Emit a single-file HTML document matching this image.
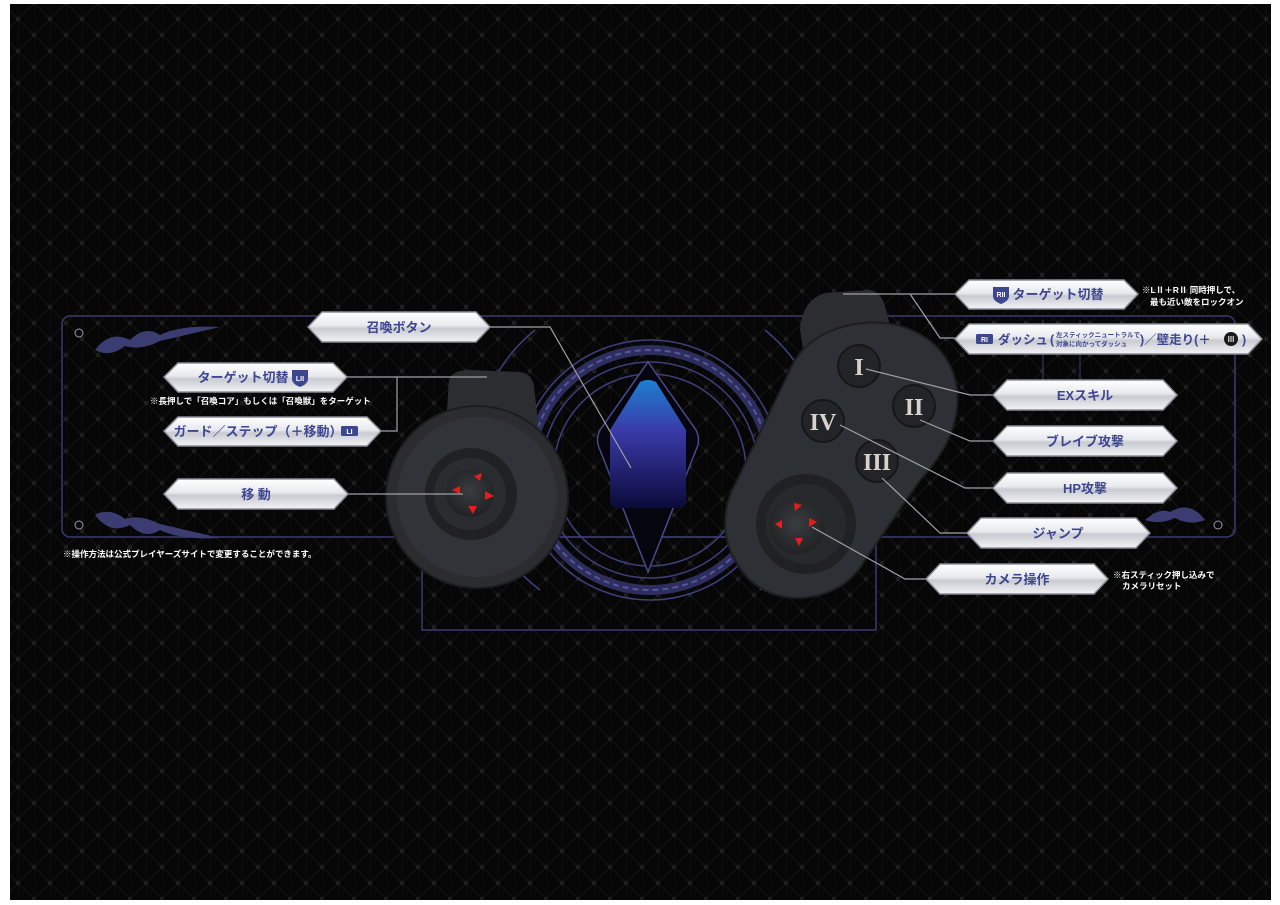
<!DOCTYPE html>
<html><head><meta charset="utf-8"><style>
html,body{margin:0;padding:0;background:#fff;}
svg{display:block;}
text{font-family:"Liberation Sans","Noto Sans CJK JP",sans-serif;font-weight:bold;}
text.rn{font-family:"Liberation Serif",serif;}
</style></head><body>
<svg width="1280" height="905" viewBox="0 0 1280 905" xmlns="http://www.w3.org/2000/svg">
<defs>
<pattern id="grid" x="2" y="3" width="32" height="32" patternUnits="userSpaceOnUse">
<rect width="32" height="32" fill="#060606"/>
<path d="M0 0V32M16 0V32" stroke="#101010" stroke-width="1"/>
<path d="M0 0L32 32M32 0L0 32" stroke="#161616" stroke-width="1" fill="none"/>
<rect x="-2" y="-2" width="4" height="4" fill="#1e1e1e"/><rect x="30" y="-2" width="4" height="4" fill="#1e1e1e"/><rect x="-2" y="30" width="4" height="4" fill="#1e1e1e"/><rect x="30" y="30" width="4" height="4" fill="#1e1e1e"/>
<rect x="14" y="14" width="4" height="4" fill="#1e1e1e"/>
</pattern>
<linearGradient id="plate" x1="0" y1="0" x2="0" y2="1">
<stop offset="0" stop-color="#ffffff"/><stop offset="0.45" stop-color="#e8e9ee"/><stop offset="0.55" stop-color="#c9cbd2"/><stop offset="1" stop-color="#f4f4f6"/>
</linearGradient>
<linearGradient id="crys" x1="0" y1="0" x2="0" y2="1">
<stop offset="0" stop-color="#1d7fd0"/><stop offset="0.4" stop-color="#3a3aa8"/><stop offset="1" stop-color="#0b0a3a"/>
</linearGradient>
<radialGradient id="stick" cx="0.5" cy="0.45" r="0.6"><stop offset="0" stop-color="#3a3d40"/><stop offset="1" stop-color="#1e2022"/></radialGradient>
</defs>
<rect x="10" y="4" width="1261" height="896" fill="url(#grid)"/>

<rect x="62" y="316" width="1173" height="221" rx="8" fill="none" stroke="#3a3a6e" stroke-width="1.5"/>
<rect x="422" y="537" width="454" height="93" fill="none" stroke="#3a3a6e" stroke-width="1.5"/>
<path d="M1043 320V380M1080 320V380" stroke="#3a3a6e"/>
<circle cx="79" cy="333" r="4" fill="none" stroke="#9a9ab0"/>
<circle cx="79" cy="525" r="4" fill="none" stroke="#9a9ab0"/>
<circle cx="1218" cy="525" r="4" fill="none" stroke="#9a9ab0"/>
<path d="M95 350 q15 -20 35 -10 q15 -15 30 -5 q20 -10 60 -8 l-60 14 q-20 10 -35 5 q-15 12 -30 4z" fill="#3b3d72"/>
<path d="M95 515 q15 20 35 10 q15 15 30 5 q20 10 60 8 l-60 -14 q-20 -10 -35 -5 q-15 -12 -30 -4z" fill="#3b3d72"/>
<path d="M1205 520 q-15 -20 -35 -8 q-10 -5 -25 8 q15 5 30 -2 q15 8 30 2z" fill="#3b3d72"/>

<g fill="none" stroke="#3e3f7c">
<circle cx="650" cy="470" r="130" stroke-width="1.5"/>
<circle cx="650" cy="470" r="120" stroke-width="10" stroke="#2d2e5e"/>
<circle cx="650" cy="470" r="120" stroke-width="2" stroke-dasharray="6 4" stroke="#55579a"/>
<circle cx="650" cy="470" r="108" stroke-width="1.5"/>
<circle cx="650" cy="470" r="96" stroke-width="1.5"/>
<path d="M535 330 A165 165 0 0 0 540 590" stroke-width="1.5"/>
<path d="M765 330 A165 165 0 0 1 760 590" stroke-width="1.5"/>
<path d="M648 362 L600 430 Q595 440 600 450 L648 572 L696 450 Q701 440 696 430 Z" stroke="#4a4a8a" stroke-width="1.5" fill="#050510"/>
</g>
<path d="M640 382 Q648 378 656 382 L686 430 L686 500 Q686 508 678 508 L618 508 Q610 508 610 500 L610 430 Z" fill="url(#crys)"/>

<path d="M449 380 Q452 370 470 370 L520 372 Q532 374 534 386 L540 440 L445 440 Z" fill="#2b2d30"/>
<circle cx="477" cy="497" r="91" fill="#2a2c2f" stroke="#1c1d1f" stroke-width="2"/>
<circle cx="477" cy="497" r="80" fill="#303337"/>
<circle cx="471" cy="494" r="46" fill="#1f2123"/>
<circle cx="470" cy="494" r="36" fill="#2a2c2f"/>
<circle cx="470" cy="493" r="24" fill="url(#stick)"/>
<g fill="#e0201e">
<path d="M474 476 l8 -3 l-2 8z"/><path d="M452 490 l8 -4 v8z"/><path d="M485 491 l9 5 l-9 4z"/><path d="M468 506 l9 0 l-4 8z"/>
</g>

<path d="M800 330 Q802 300 825 293 L870 290 Q882 292 886 310 L895 345 L805 360 Z" fill="#2b2d30"/>
<path d="M850 325 Q900 315 935 345 Q965 375 955 420 Q948 450 920 480 L865 560 Q845 595 800 598 Q755 598 735 560 Q718 530 730 495 L790 370 Q805 335 850 325 Z" fill="#2d3034" stroke="#1d1e20" stroke-width="2"/>
<circle cx="806" cy="524" r="50" fill="#1f2123"/>
<circle cx="806" cy="524" r="40" fill="#27292c"/>
<circle cx="797" cy="526" r="28" fill="url(#stick)"/>
<g fill="#e0201e">
<path d="M794 503 l8 2 l-7 6z"/><path d="M809 518 l8 4 l-8 5z"/><path d="M775 524 l7 -4 v9z"/><path d="M795 538 l8 0 l-4 8z"/>
</g>
<g>
<circle cx="859" cy="366" r="21" fill="#222427" stroke="#151617" stroke-width="2"/>
<circle cx="914" cy="406" r="21" fill="#222427" stroke="#151617" stroke-width="2"/>
<circle cx="823" cy="421" r="21" fill="#222427" stroke="#151617" stroke-width="2"/>
<circle cx="877" cy="461" r="21" fill="#222427" stroke="#151617" stroke-width="2"/>
<g font-size="24" fill="#d8d2cc" text-anchor="middle">
<text class="rn" x="859" y="375">I</text><text class="rn" x="914" y="415">II</text><text class="rn" x="823" y="430">IV</text><text class="rn" x="877" y="470">III</text>
</g>
</g>

<g fill="none" stroke="#a0a0a8" stroke-width="1.2">
<path d="M490 327H550L631 468"/>
<path d="M347 377H487M397 377V431H381"/>
<path d="M348 494H463"/>
<path d="M843 294H955M910 294L940 338H955"/>
<path d="M866 369L970 395H993"/>
<path d="M920 420L970 441H993"/>
<path d="M840 425L965 488H993"/>
<path d="M882 478L940 533H967"/>
<path d="M812 527L905 579H926"/>
</g>

<g stroke="#8a8c96" stroke-width="1.5" fill="url(#plate)">
<path d="M308 327L322 312H476L490 327L476 342H322Z"/>
<path d="M164 377L178 363H333L347 377L333 392H178Z"/>
<path d="M164 431L178 417H367L381 431L367 446H178Z"/>
<path d="M164 494L178 479H334L348 494L334 509H178Z"/>
<path d="M955 294L969 280H1124L1138 294L1124 309H969Z"/>
<path d="M955 339L969 324H1248L1262 339L1248 354H969Z"/>
<path d="M993 395L1007 380H1163L1177 395L1163 410H1007Z"/>
<path d="M993 441L1007 426H1163L1177 441L1163 456H1007Z"/>
<path d="M993 488L1007 473H1163L1177 488L1163 503H1007Z"/>
<path d="M967 533L981 518H1136L1150 533L1136 548H981Z"/>
<path d="M926 579L940 564H1094L1108 579L1094 594H940Z"/>
</g>
<g fill="#3e4690" font-size="13" text-anchor="middle">
<text x="399" y="332">召喚ボタン</text>
<text x="243" y="382">ターゲット切替</text>
<text x="258" y="436">ガード／ステップ（＋移動）</text>
<text x="256" y="499">移 動</text>
<text x="1058" y="299">ターゲット切替</text>
<text x="1085" y="400">EXスキル</text>
<text x="1085" y="446">ブレイブ攻撃</text>
<text x="1085" y="493">HP攻撃</text>
<text x="1058" y="538">ジャンプ</text>
<text x="1017" y="584">カメラ操作</text>
</g>
<g fill="#3e4690" font-size="12.5">
<text x="998" y="344">ダッシュ</text>
<text x="1050" y="344">(</text>
<text x="1140" y="344">)／壁走り(＋</text>
<text x="1242" y="344">)</text>
</g>
<g fill="#3e4690" font-size="6.5"><text x="1056" y="337">左スティックニュートラルで</text><text x="1056" y="346">対象に向かってダッシュ</text></g>
<circle cx="1231" cy="339" r="7" fill="#1a1a1a"/>
<text x="1231" y="342" fill="#ddd" font-size="8" text-anchor="middle">III</text>
<path d="M292 370h16v9q0 5 -8 8q-8 -3 -8 -8z" fill="#3e4690"/><text x="300" y="381" font-size="7" fill="#fff" text-anchor="middle">LII</text>
<rect x="341" y="426" width="17" height="10" rx="1.5" fill="#3e4690"/><text x="349.5" y="434" font-size="7" fill="#fff" text-anchor="middle">LI</text>
<path d="M993 287h16v9q0 5 -8 8q-8 -3 -8 -8z" fill="#3e4690"/><text x="1001" y="297" font-size="7" fill="#fff" text-anchor="middle">RII</text>
<rect x="976" y="334" width="17" height="10" rx="1.5" fill="#3e4690"/><text x="984.5" y="342" font-size="7" fill="#fff" text-anchor="middle">RI</text>

<g fill="#fff" font-size="8.5">
<text x="150" y="404">※長押しで「召喚コア」もしくは「召喚獣」をターゲット</text>
<text x="63" y="557">※操作方法は公式プレイヤーズサイトで変更することができます。</text>
<text x="1142" y="293">※LⅡ＋RⅡ 同時押しで、</text>
<text x="1150" y="305">最も近い敵をロックオン</text>
<text x="1113" y="578">※右スティック押し込みで</text>
<text x="1122" y="589">カメラリセット</text>
</g>
</svg>
</body></html>
